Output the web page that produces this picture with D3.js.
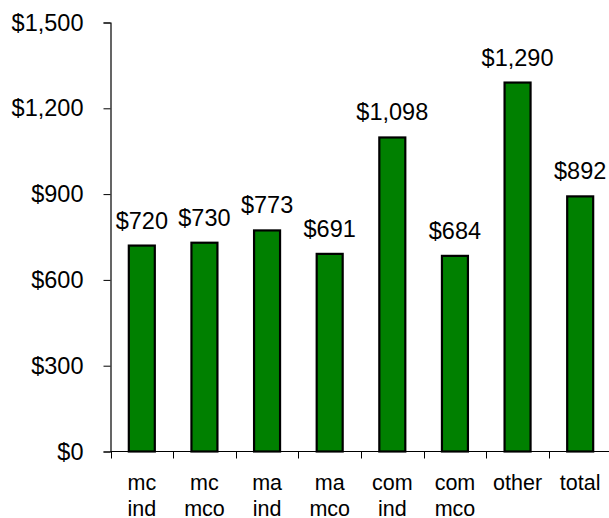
<!DOCTYPE html>
<html>
<head>
<meta charset="utf-8">
<script src="https://cdn.jsdelivr.net/npm/d3@7/dist/d3.min.js"></script>
<style>
  html, body { margin: 0; padding: 0; background: #fff; }
  svg { display: block; font-family: "Liberation Sans", Arial, sans-serif; }
</style>
</head>
<body>
<svg id="chart" width="609" height="518"></svg>
<script>
// Average cost per category
const categories = ["mc ind", "mc mco", "ma ind", "ma mco", "com ind", "com mco", "other", "total"];
const values = [720, 730, 773, 691, 1098, 684, 1290, 892];
const yTicks = [0, 300, 600, 900, 1200, 1500];

const svg = d3.select("#chart");
const plotLeft = 110.5, plotRight = 611.5, plotTop = 22.5, plotBottom = 451.5;

const x = d3.scaleBand()
  .domain(categories)
  .range([plotLeft, plotRight])
  .paddingInner(0.585)
  .paddingOuter(0.2925);

const y = d3.scaleLinear().domain([0, 1500]).range([plotBottom, plotTop]);

const money = d => "$" + d3.format(",")(d);

// y axis
const yAxis = svg.append("g")
  .attr("transform", `translate(${plotLeft},0)`)
  .call(d3.axisLeft(y).tickValues(yTicks).tickSize(7).tickPadding(20).tickFormat(money));
yAxis.select(".domain").attr("stroke", "#000").attr("stroke-width", 1.2);
yAxis.selectAll(".tick line").attr("stroke", "#000");
yAxis.selectAll(".tick text")
  .attr("font-size", 23.5)
  .attr("font-family", "Liberation Sans, Arial, sans-serif")
  .attr("fill", "#000");

// x axis baseline and category separators
svg.append("line")
  .attr("x1", plotLeft).attr("x2", 609)
  .attr("y1", plotBottom).attr("y2", plotBottom)
  .attr("stroke", "#000").attr("stroke-width", 1.2);

const step = x.step();
svg.append("g").selectAll("line")
  .data(categories)
  .join("line")
  .attr("x1", d => Math.round(x(d) + x.bandwidth() / 2 - step / 2) + 0.5)
  .attr("x2", d => Math.round(x(d) + x.bandwidth() / 2 - step / 2) + 0.5)
  .attr("y1", plotBottom).attr("y2", plotBottom + 7)
  .attr("stroke", "#000");

// bars
svg.append("g").selectAll("rect")
  .data(values)
  .join("rect")
  .attr("x", (d, i) => x(categories[i]))
  .attr("y", d => y(d))
  .attr("width", x.bandwidth())
  .attr("height", d => y(0) - y(d))
  .attr("fill", "#008000")
  .attr("stroke", "#000")
  .attr("stroke-width", 2.2);

// value labels
svg.append("g").selectAll("text")
  .data(values)
  .join("text")
  .attr("x", (d, i) => x(categories[i]) + x.bandwidth() / 2)
  .attr("y", d => y(d) - 17)
  .attr("text-anchor", "middle")
  .attr("font-size", 23.5)
  .attr("fill", "#000")
  .text(money);

// category labels (two lines)
const cat = svg.append("g").selectAll("text")
  .data(categories)
  .join("text")
  .attr("text-anchor", "middle")
  .attr("font-size", 21.5)
  .attr("fill", "#000");
cat.each(function (d) {
  const parts = d.split(" ");
  const cx = x(d) + x.bandwidth() / 2;
  d3.select(this).selectAll("tspan")
    .data(parts)
    .join("tspan")
    .attr("x", cx)
    .attr("y", (p, i) => 489.5 + i * 26.3)
    .text(p => p);
});
</script>
</body>
</html>
